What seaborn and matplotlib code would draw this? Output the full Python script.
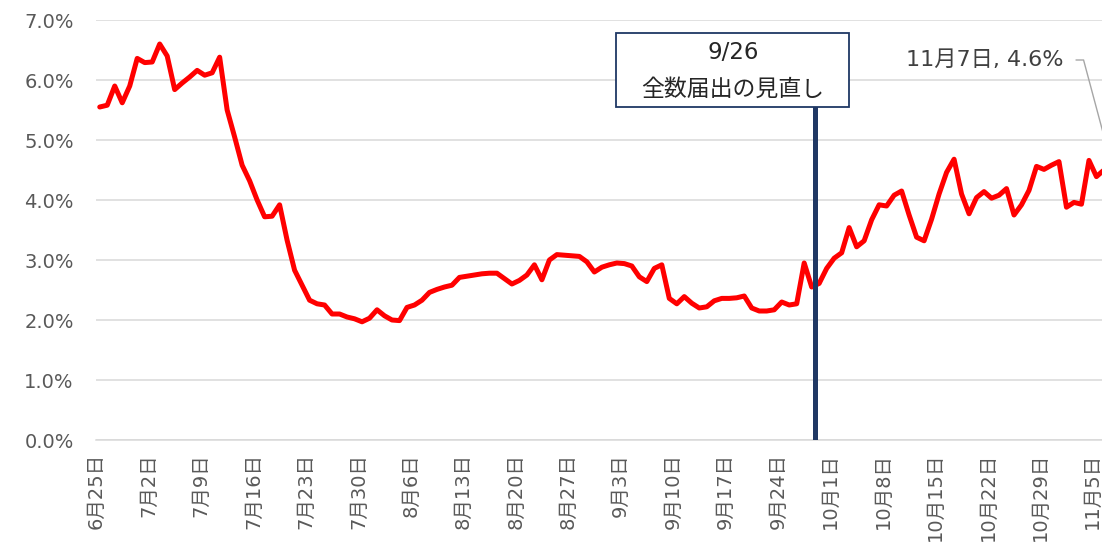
import matplotlib
matplotlib.use("Agg")
import matplotlib.pyplot as plt
from matplotlib.patches import Rectangle
import numpy as np
import pandas as pd
import seaborn as sns

# daily share (%), 6/25 .. 11/7
start = pd.Timestamp("2022-06-25")
rate = [
    5.55, 5.58, 5.90, 5.62, 5.90, 6.36, 6.29, 6.30, 6.60, 6.40,
    5.84, 5.95, 6.05, 6.16, 6.08, 6.12, 6.38, 5.50, 5.05, 4.58,
    4.32, 4.00, 3.72, 3.73, 3.92, 3.33, 2.83, 2.58, 2.33, 2.27,
    2.25, 2.10, 2.10, 2.05, 2.02, 1.97, 2.03, 2.17, 2.07, 2.00,
    1.99, 2.21, 2.25, 2.33, 2.46, 2.51, 2.55, 2.58, 2.71, 2.73,
    2.75, 2.77, 2.78, 2.78, 2.69, 2.60, 2.66, 2.75, 2.92, 2.67,
    3.00, 3.09, 3.08, 3.07, 3.06, 2.97, 2.80, 2.88, 2.92, 2.95,
    2.94, 2.90, 2.72, 2.64, 2.86, 2.92, 2.36, 2.27, 2.39, 2.28,
    2.20, 2.22, 2.32, 2.36, 2.36, 2.37, 2.40, 2.20, 2.15, 2.15,
    2.17, 2.30, 2.25, 2.27, 2.95, 2.55, 2.61, 2.86, 3.03, 3.12,
    3.54, 3.22, 3.32, 3.67, 3.92, 3.90, 4.08, 4.15, 3.75, 3.38,
    3.32, 3.68, 4.10, 4.46, 4.68, 4.10, 3.77, 4.04, 4.14, 4.03,
    4.08, 4.19, 3.75, 3.92, 4.16, 4.56, 4.51, 4.58, 4.64, 3.88,
    3.96, 3.93, 4.66, 4.39, 4.50, 4.60,
]
dates = pd.date_range(start, periods=len(rate), freq="D")
tick_dates = pd.date_range(start, periods=20, freq="7D")
tick_labels = [f"{d.month}月{d.day}日" for d in tick_dates]
y_ticks = [0, 1, 2, 3, 4, 5, 6, 7]

marker_date = pd.Timestamp("2022-09-29")
marker_text = "9/26\n全数届出の見直し"
last_label = f"{dates[-1].month}月{dates[-1].day}日, {rate[-1]:.1f}%"

sns.set_style("white")
plt.rcParams["font.family"] = ["DejaVu Sans", "Noto Sans CJK JP"]

df = pd.DataFrame({"date": dates + pd.Timedelta(hours=12), "rate": rate})

fig = plt.figure(figsize=(11.02, 5.51), dpi=100)
ax = fig.add_axes([96 / 1102, 111 / 551, 1006 / 1102, 420 / 551])

sns.lineplot(data=df, x="date", y="rate", ax=ax, color="#FF0000", linewidth=3.6, zorder=3)
ln = ax.lines[0]
ln.set_solid_joinstyle("round")
ln.set_solid_capstyle("round")

# box bottom sits at 0.793 of the axes height
ax.axvline(marker_date, ymin=0, ymax=0.793, color="#203864", lw=3.6, zorder=4)

ax.set_ylim(0, 7)
ax.set_yticks(y_ticks)
ax.set_yticklabels([f"{v:.1f}%" for v in y_ticks])
ax.set_xlim(start, start + pd.Timedelta(days=134.24))
ax.set_xticks(tick_dates)
ax.set_xticklabels(tick_labels, rotation=90)
ax.set_xlabel("")
ax.set_ylabel("")

ax.grid(axis="y", color="#D9D9D9", lw=1.1)
ax.set_axisbelow(True)
for s in ["top", "right", "left"]:
    ax.spines[s].set_visible(False)
ax.spines["bottom"].set_color("#D9D9D9")
ax.spines["bottom"].set_linewidth(1.1)
ax.tick_params(axis="x", length=4.3, width=1.1, color="#D9D9D9",
               labelsize=14, labelcolor="#595959", pad=5)
ax.tick_params(axis="y", length=0, labelsize=14, labelcolor="#595959", pad=16)

# callout box for the rule change
box = Rectangle((0.517, 0.793), 0.2315, 0.176, transform=ax.transAxes,
                facecolor="white", edgecolor="#1F3864", lw=1.3, zorder=5, clip_on=False)
ax.add_patch(box)
line1, line2 = marker_text.split("\n")
ax.text(0.633, 0.922, line1, transform=ax.transAxes, ha="center", va="center",
        fontsize=16.5, color="#262626", zorder=6)
ax.text(0.633, 0.836, line2, transform=ax.transAxes, ha="center", va="center",
        fontsize=16.5, color="#262626", zorder=6)

# label for the last point
ax.annotate(last_label, xy=(df["date"].iloc[-1], rate[-1]),
            xytext=(1063, 491), textcoords="figure pixels",
            ha="right", va="center", fontsize=16, color="#404040",
            annotation_clip=False,
            arrowprops=dict(arrowstyle="-", color="#A6A6A6", lw=1.0, shrinkA=7, shrinkB=0,
                            connectionstyle="angle,angleA=0,angleB=105,rad=0"))

fig.savefig("out.png", dpi=100)
